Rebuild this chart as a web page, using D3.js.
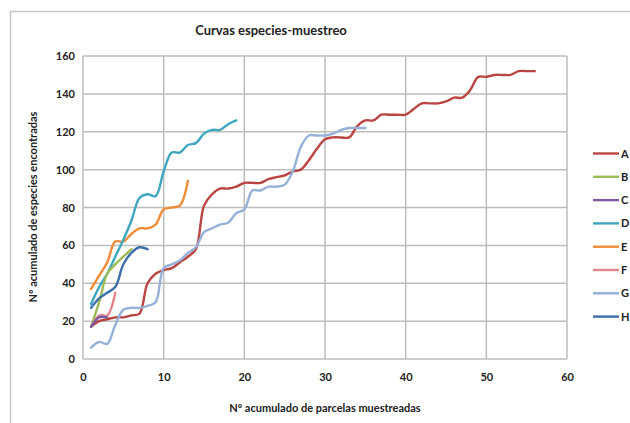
<!DOCTYPE html>
<html><head><meta charset="utf-8">
<script src="https://cdn.jsdelivr.net/npm/d3@7"></script>
<style>
html,body{margin:0;padding:0;background:#fff;}
svg text{font-family:Lato,"Open Sans",sans-serif;fill:#222;}
</style></head>
<body>
<svg id="chart" width="630" height="423"></svg>
<script>
const seriesNames = ["A","B","C","D","E","F","G","H"];
const seriesColors = ["#BA4442","#9BBB59","#7B5DA0","#3FA6BF","#F08C38","#E2868A","#95B1D8","#3E6FAA"];
const valuesA = [17,20,21,22,22,23,24,40,45,47,48,51,54,58,81,87,90,90,91,93,93,93,95,96,97,99,100,105,111,116,117,117,117,123,126,126,129,129,129,129,132,135,135,135,136,138,138,142,149,149,150,150,150,152,152,152];
const valuesB = [17,30,45,50,54,58];
const valuesC = [17,22,22];
const valuesD = [29,38,45,54,63,73,85,87,86,99,109,109,113,114,119,121,121,124,126];
const valuesE = [37,44,51,62,62,66,69,69,71,79,80,81,94];
const valuesF = [17,23,23,35];
const valuesG = [6,9,8,18,26,27,27,28,30,48,50,52,56,59,67,69,71,72,77,79,89,89,91,91,92,99,112,118,118,118,119,121,122,122,122];
const valuesH = [27,32,35,38,50,56,59,58];
const xTicks = [0,10,20,30,40,50,60];
const yTicks = [0,20,40,60,80,100,120,140,160];
const title = "Curvas especies-muestreo";
const xTitle = "Nº acumulado de parcelas muestreadas";
const yTitle = "Nº acumulado de especies encontradas";

const allValues = [valuesA,valuesB,valuesC,valuesD,valuesE,valuesF,valuesG,valuesH];

const svg = d3.select("#chart");
// outer chart border
svg.append("rect").attr("x",10.5).attr("y",11.5).attr("width",660).attr("height",420)
  .attr("fill","none").attr("stroke","#C8C8C8").attr("stroke-width",1.5);

const x = d3.scaleLinear().domain([0,60]).range([83,567]);
const y = d3.scaleLinear().domain([0,160]).range([359,56]);

// gridlines
const grid = svg.append("g");
grid.selectAll("line.h").data(yTicks).join("line")
  .attr("x1",x(0)).attr("x2",x(60)).attr("y1",d=>y(d)).attr("y2",d=>y(d))
  .attr("stroke","#BDBDBD").attr("stroke-width",1.5);
grid.selectAll("line.v").data(xTicks).join("line")
  .attr("y1",y(0)).attr("y2",y(160)).attr("x1",d=>x(d)).attr("x2",d=>x(d))
  .attr("stroke","#BDBDBD").attr("stroke-width",1.5);

// axes labels
const xAxis = d3.axisBottom(x).tickValues(xTicks).tickSize(0).tickPadding(14);
const gx = svg.append("g").attr("transform",`translate(0,${y(0)})`).call(xAxis);
gx.select(".domain").remove();
gx.selectAll("text").attr("font-size","11px").attr("font-weight","bold").attr("fill","#333")
  .style("font-family","Lato, sans-serif");
const yAxis = d3.axisLeft(y).tickValues(yTicks).tickSize(0).tickPadding(8);
const gy = svg.append("g").attr("transform",`translate(${x(0)},0)`).call(yAxis);
gy.select(".domain").remove();
gy.selectAll("text").attr("font-size","11px").attr("font-weight","bold").attr("fill","#333")
  .style("font-family","Lato, sans-serif");

// lines
const line = d3.line().x((d,i)=>x(i+1)).y(d=>y(d)).curve(d3.curveCatmullRom.alpha(0.5));
const order = [0,6,4,3,1,7,5,2];
order.forEach(k=>{
  svg.append("path").datum(allValues[k]).attr("d",line)
    .attr("fill","none").attr("stroke",seriesColors[k]).attr("stroke-width",2.4)
    .attr("stroke-linejoin","round").attr("stroke-linecap","round");
});

// legend
const leg = svg.append("g");
seriesNames.forEach((n,i)=>{
  const yy = 153.5 + i*23.3;
  leg.append("line").attr("x1",593).attr("x2",619).attr("y1",yy).attr("y2",yy)
    .attr("stroke",seriesColors[i]).attr("stroke-width",2.4);
  leg.append("text").attr("x",621).attr("y",yy+4).text(n)
    .attr("font-size","11px").attr("font-weight","bold").attr("fill","#333");
});

// titles
svg.append("text").attr("x",271).attr("y",35).attr("text-anchor","middle")
  .attr("font-size","13px").attr("font-weight","bold").text(title);
svg.append("text").attr("x",325).attr("y",412).attr("text-anchor","middle")
  .attr("font-size","11px").attr("font-weight","bold").text(xTitle);
svg.append("text").attr("transform","translate(37,207) rotate(-90)").attr("text-anchor","middle")
  .attr("font-size","11px").attr("font-weight","bold").text(yTitle);
</script>
</body></html>
